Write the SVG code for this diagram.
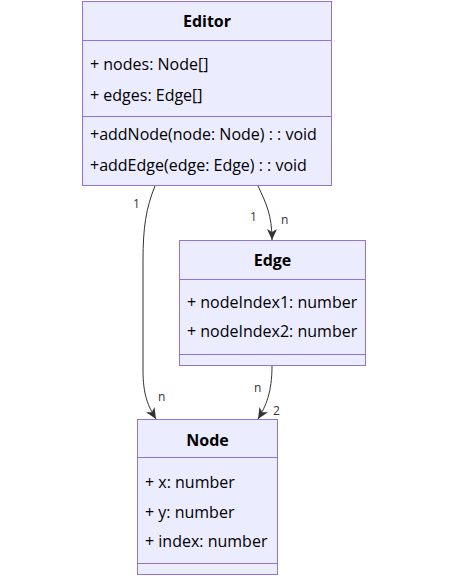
<svg xmlns="http://www.w3.org/2000/svg" width="453" height="579" viewBox="0 0 453 579">
<style>
.box{fill:#ECECFF;stroke:#9370DB;stroke-width:1}
.div{stroke:#9370DB;stroke-width:1}
.t{font-family:"Trebuchet MS","Open Sans","Liberation Sans",Arial,sans-serif;font-size:16px;fill:#000}
.title{font-weight:bold;text-anchor:middle}
.edge{fill:none;stroke:#333;stroke-width:1}
.lbl{font-family:"Trebuchet MS","Open Sans","Liberation Sans",Arial,sans-serif;font-size:12px;fill:#333}
</style>
<defs>
<marker id="arr" viewBox="0 0 12 12" refX="11" refY="6" markerWidth="12" markerHeight="12" markerUnits="userSpaceOnUse" orient="auto">
<path d="M0,1 L11,6 L0,11 L3,6 Z" fill="#333"/>
</marker>
</defs>
<rect width="453" height="579" fill="#fff"/>
<g id="connectors">
<path class="edge" d="M155,186 C146,208 143,228 143,260 L143,370 C143,395 148,406 156,419" marker-end="url(#arr)"/>
<path class="edge" d="M258,186 C266,203 272,215 272,240" marker-end="url(#arr)"/>
<path class="edge" d="M272,366 C272,392 266,406 258,419" marker-end="url(#arr)"/>
<text class="lbl" x="133" y="208">1</text>
<text class="lbl" x="158" y="401">n</text>
<text class="lbl" x="250" y="221">1</text>
<text class="lbl" x="281" y="224">n</text>
<text class="lbl" x="254" y="392">n</text>
<text class="lbl" x="273" y="415">2</text>
</g>
<g id="Editor">
<rect class="box" x="82.5" y="1.5" width="249" height="184"/>
<line class="div" x1="82.5" y1="40.5" x2="331.5" y2="40.5"/>
<line class="div" x1="82.5" y1="116.5" x2="331.5" y2="116.5"/>
<text class="t title" x="207" y="27">Editor</text>
<text class="t" x="90" y="70">+ nodes: Node[]</text>
<text class="t" x="90" y="101">+ edges: Edge[]</text>
<text class="t" x="90" y="140">+addNode(node: Node) : : void</text>
<text class="t" x="90" y="171">+addEdge(edge: Edge) : : void</text>
</g>
<g id="Edge">
<rect class="box" x="179.5" y="240.5" width="186" height="125"/>
<line class="div" x1="179.5" y1="279.5" x2="365.5" y2="279.5"/>
<line class="div" x1="179.5" y1="354.5" x2="365.5" y2="354.5"/>
<text class="t title" x="272.5" y="266">Edge</text>
<text class="t" x="187" y="308">+ nodeIndex1: number</text>
<text class="t" x="187" y="337">+ nodeIndex2: number</text>
</g>
<g id="Node">
<rect class="box" x="137.5" y="419.5" width="140" height="155"/>
<line class="div" x1="137.5" y1="457.5" x2="277.5" y2="457.5"/>
<line class="div" x1="137.5" y1="563.5" x2="277.5" y2="563.5"/>
<text class="t title" x="207.5" y="446">Node</text>
<text class="t" x="145" y="488">+ x: number</text>
<text class="t" x="145" y="518">+ y: number</text>
<text class="t" x="145" y="547">+ index: number</text>
</g>
</svg>
